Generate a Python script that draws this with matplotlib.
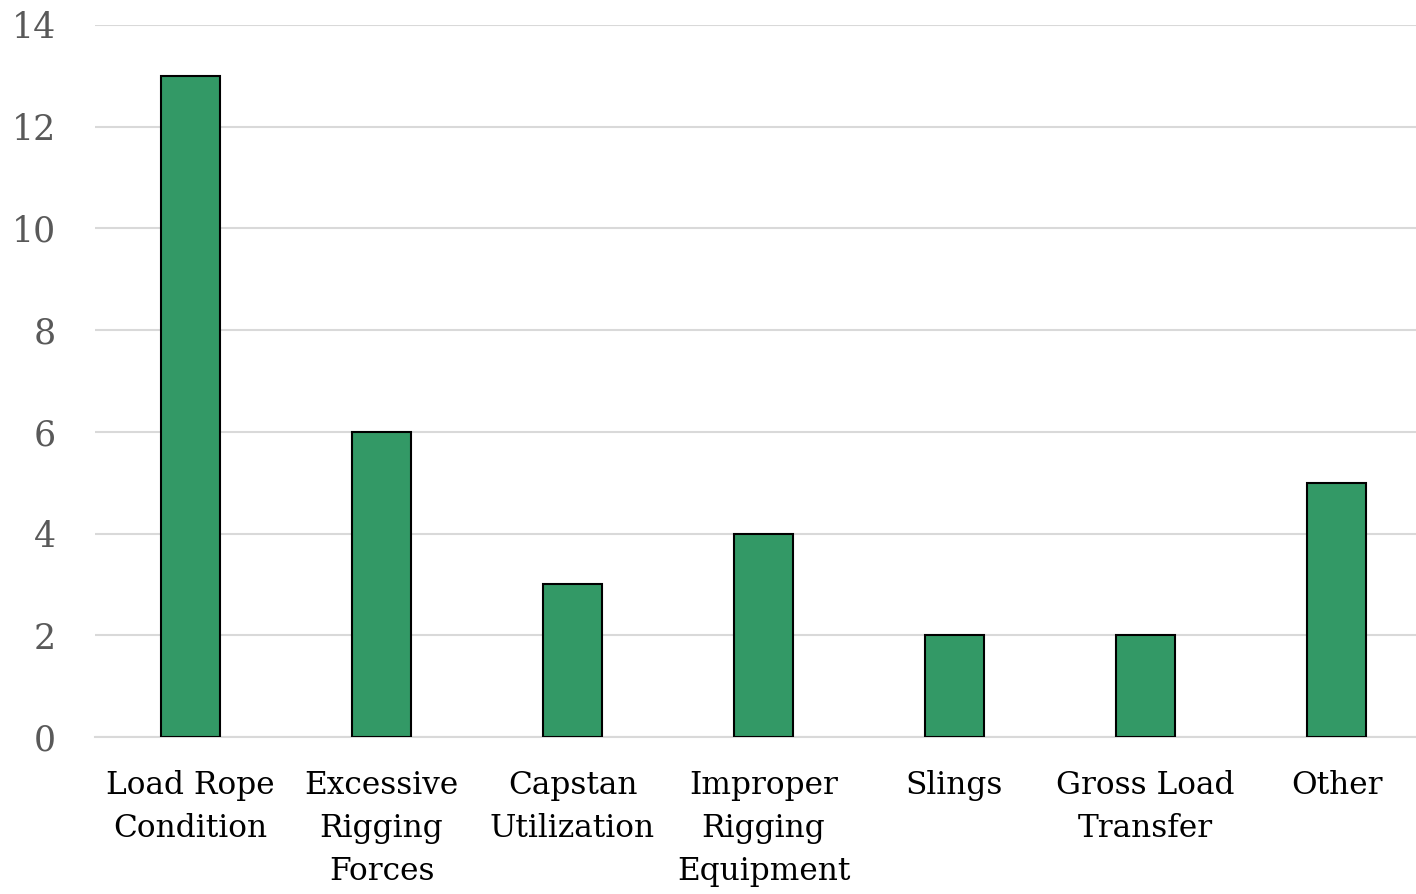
import matplotlib
matplotlib.use("Agg")
import matplotlib.pyplot as plt
import numpy as np

categories = ["Load Rope\nCondition", "Excessive\nRigging\nForces", "Capstan\nUtilization",
              "Improper\nRigging\nEquipment", "Slings", "Gross Load\nTransfer", "Other"]
counts = [13, 6, 3, 4, 2, 2, 5]
yticks = [0, 2, 4, 6, 8, 10, 12, 14]

plt.rcParams['font.family'] = ['DejaVu Serif']

fig = plt.figure(figsize=(14.16, 8.94), dpi=100)
ax = fig.add_axes([95 / 1416, 1 - 737 / 894, 1337 / 1416, 712 / 894])

x = np.arange(len(categories))
ax.bar(x, counts, width=0.314, color='#339966', edgecolor='black', linewidth=1.5, zorder=3)

ax.set_xlim(-0.5, len(categories) - 0.5)
ax.set_ylim(0, 14)
ax.set_yticks(yticks)
ax.grid(axis='y', color='#d9d9d9', linewidth=1.5, zorder=0)
for s in ['top', 'right', 'left']:
    ax.spines[s].set_visible(False)
ax.spines['bottom'].set_color('#d9d9d9')
ax.spines['bottom'].set_linewidth(1.5)

ax.set_xticks(x)
ax.set_xticklabels(categories, fontsize=22.5, linespacing=1.5, va='top')
ax.tick_params(axis='x', length=0, pad=24)
ax.tick_params(axis='y', length=0, pad=28, labelsize=25, labelcolor='#595959')

fig.savefig("out.png", dpi=100)
